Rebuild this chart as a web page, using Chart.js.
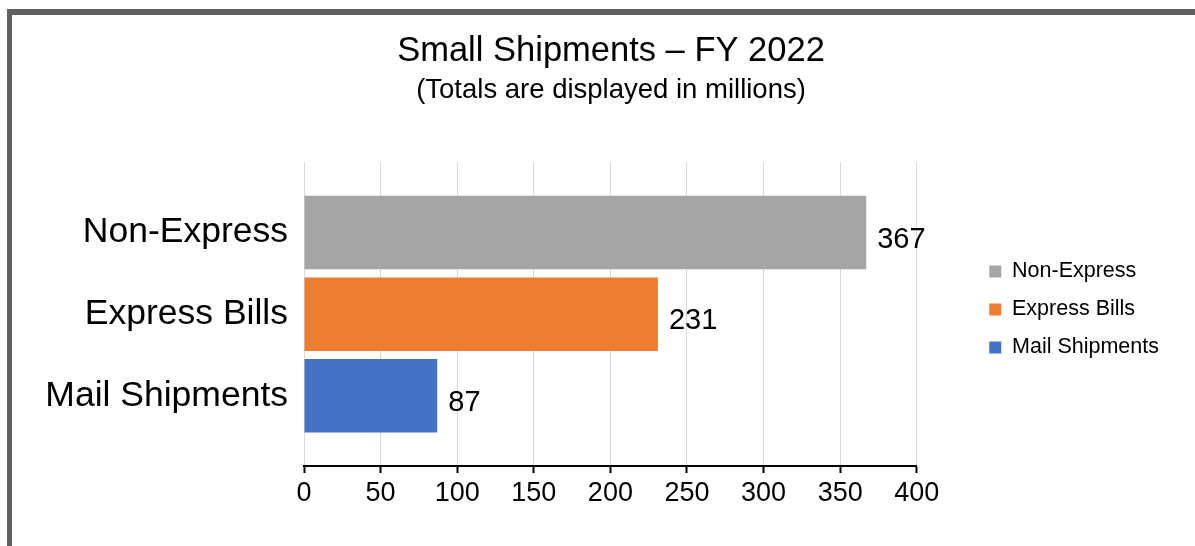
<!DOCTYPE html>
<html>
<head>
<meta charset="utf-8">
<title>Small Shipments – FY 2022</title>
<script src="https://cdn.jsdelivr.net/npm/chart.js@4/dist/chart.umd.min.js"></script>
<style>
  html, body { margin: 0; padding: 0; background: #fff; overflow: hidden; }
  body { width: 1195px; height: 546px; position: relative; }
  .frame {
    position: absolute; left: 7px; top: 9px;
    width: 1300px; height: 600px;
    border-left: 5px solid #606060;
    border-top: 6px solid #606060;
  }
  .wrap { position: absolute; left: 12px; top: 15px; width: 1198px; height: 531px; }
</style>
</head>
<body>
<div class="frame"></div>
<div class="wrap"><canvas id="shipmentsChart"></canvas></div>
<script>
const categories = ["Non-Express", "Express Bills", "Mail Shipments"];
const totals = [367, 231, 87];
const barColors = ["#A5A5A5", "#ED7D31", "#4472C4"];
const xMin = 0, xMax = 400, xStep = 50;

Chart.defaults.font.family = '"Liberation Sans", Arial, Helvetica, sans-serif';
Chart.defaults.color = "#000";

// totals written just past the end of each bar
const valueLabels = {
  id: "valueLabels",
  afterDatasetsDraw(chart) {
    const ctx = chart.ctx;
    const meta = chart.getDatasetMeta(0);
    ctx.save();
    ctx.font = '29px "Liberation Sans", Arial, sans-serif';
    ctx.fillStyle = "#000";
    ctx.textAlign = "left";
    ctx.textBaseline = "alphabetic";
    meta.data.forEach((bar, i) => {
      ctx.fillText(String(totals[i]), bar.x + 11, bar.y + 15);
    });
    ctx.restore();
  }
};

// legend sits further right and lower than the default layout puts it;
// titles are re-centred over the whole canvas (the right padding shifts them)
const boxShift = {
  id: "boxShift",
  afterLayout(chart) {
    const lg = chart.legend;
    lg.left += 56;
    lg.right += 56;
    lg.top += 29;
    lg.bottom += 29;
    chart.boxes.forEach(b => {
      if (b !== lg && b.options && typeof b.options.text === "string") {
        b.left += 48.5;
        b.right += 48.5;
      }
    });
  }
};

new Chart(document.getElementById("shipmentsChart"), {
  type: "bar",
  data: {
    datasets: [{
      label: "Totals",
      data: categories.map((c, i) => ({ x: totals[i], y: i })),
      backgroundColor: barColors,
      borderWidth: 0,
      categoryPercentage: 1,
      barPercentage: 0.9
    }]
  },
  options: {
    indexAxis: "y",
    responsive: true,
    maintainAspectRatio: false,
    animation: false,
    layout: { padding: { left: 0, right: 97, top: 0, bottom: 0 } },
    scales: {
      x: {
        type: "linear",
        min: xMin,
        max: xMax,
        ticks: { stepSize: xStep, font: { size: 27 }, color: "#000", padding: 4 },
        grid: { color: "#D9D9D9", lineWidth: 1, tickLength: 7, tickColor: "#000", tickWidth: 2 },
        border: { display: true, color: "#000", width: 2 },
        afterFit: s => { s.height = 80; }
      },
      y: {
        type: "linear",
        reverse: true,
        offset: false,
        min: -0.86,
        max: 2.86,
        afterBuildTicks: s => { s.ticks = categories.map((c, i) => ({ value: i })); },
        ticks: {
          autoSkip: false,
          padding: 16,
          font: { size: 35.5 },
          color: "#000",
          callback: v => categories[v]
        },
        grid: { display: false, drawTicks: false },
        border: { display: false },
        afterFit: s => { s.width = 292; }
      }
    },
    plugins: {
      title: {
        display: true,
        text: "Small Shipments – FY 2022",
        font: { size: 34.5, weight: "normal" },
        color: "#000",
        padding: { top: 16, bottom: 0 }
      },
      subtitle: {
        display: true,
        text: "(Totals are displayed in millions)",
        font: { size: 27.5, weight: "normal" },
        color: "#000",
        padding: { top: 2, bottom: 55 }
      },
      legend: {
        position: "right",
        onClick: () => {},
        labels: {
          boxWidth: 12,
          boxHeight: 12,
          padding: 16.5,
          font: { size: 21.5 },
          color: "#000",
          generateLabels: () => categories.map((c, i) => ({
            text: c,
            fillStyle: barColors[i],
            strokeStyle: barColors[i],
            lineWidth: 0,
            hidden: false,
            index: i
          }))
        }
      },
      tooltip: { enabled: false }
    }
  },
  plugins: [valueLabels, boxShift]
});
</script>
</body>
</html>
